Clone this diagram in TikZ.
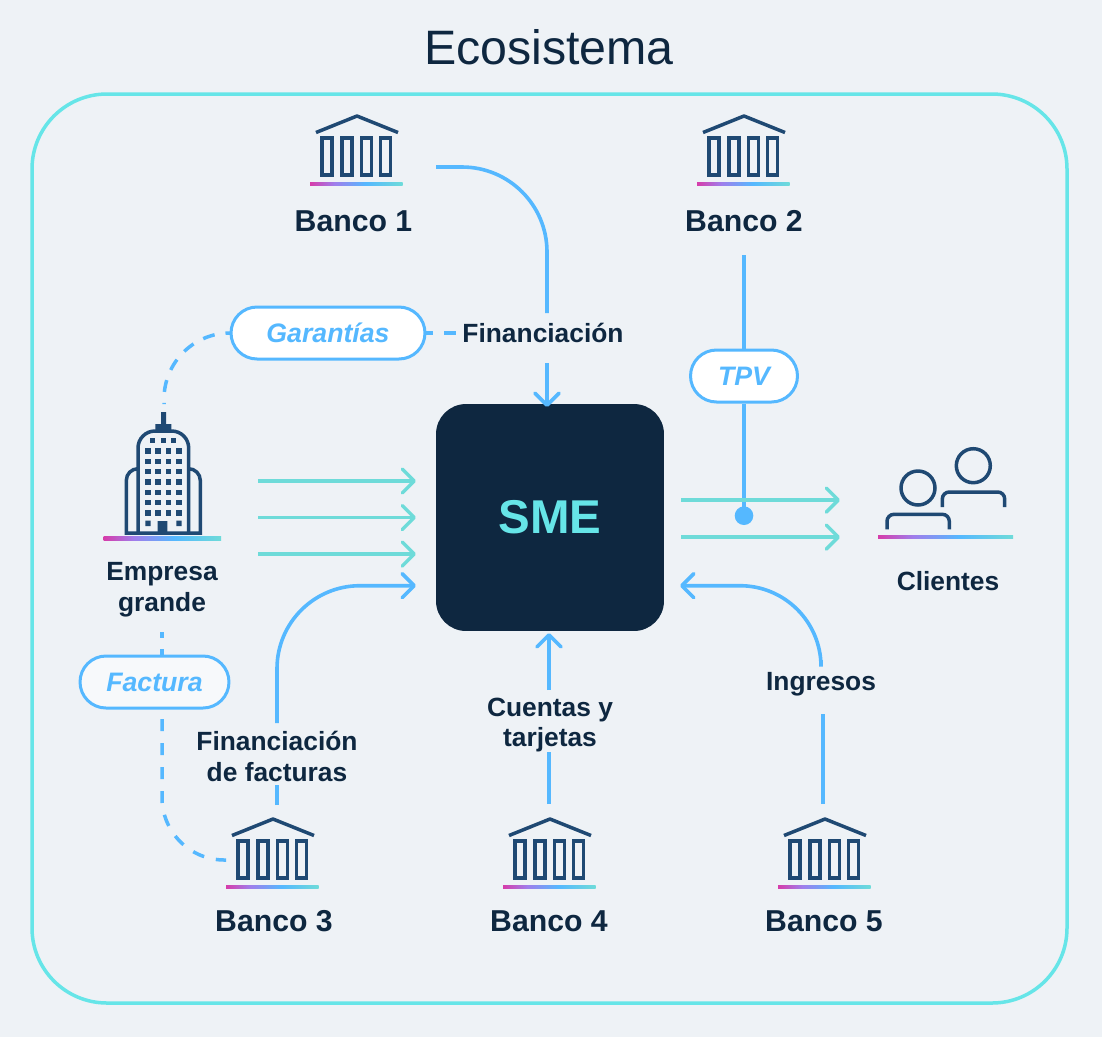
\documentclass[tikz,border=0pt]{standalone}
\usepackage{fontspec}
\setmainfont{Liberation Sans}
\usetikzlibrary{arrows.meta}
\usetikzlibrary{positioning}
\definecolor{pagebg}{RGB}{238,242,246}
\definecolor{navy}{RGB}{14,39,64}
\definecolor{iconblue}{RGB}{31,73,115}
\definecolor{flowblue}{RGB}{85,184,255}
\definecolor{flowteal}{RGB}{110,219,217}
\definecolor{frameteal}{RGB}{102,229,232}
\definecolor{barpink}{RGB}{214,60,170}
\definecolor{barpurple}{RGB}{160,125,235}
\pgfdeclarehorizontalshading{barshade}{100bp}{color(0bp)=(barpink); color(25bp)=(barpink); color(38bp)=(barpurple); color(55bp)=(flowblue); color(75bp)=(flowteal); color(100bp)=(flowteal)}
\tikzset{frame/.style={draw=frameteal,line width=0.07cm,rounded corners=1.5cm}}
\tikzset{core/.style={fill=navy,rounded corners=0.6cm,text=frameteal,font=\bfseries\fontsize{27}{32}\selectfont,minimum width=4.56cm,minimum height=4.54cm}}
\tikzset{bankname/.style={text=navy,font=\bfseries\fontsize{17.2}{20}\selectfont,inner sep=0pt}}
\tikzset{flowlabel/.style={text=navy,align=center,font=\bfseries\fontsize{15}{17.6}\selectfont,inner sep=0pt}}
\tikzset{pill/.style={draw=flowblue,line width=0.06cm,fill=white,text=flowblue,rounded corners=0.52cm,minimum height=1.04cm,font=\bfseries\itshape\fontsize{15.2}{18}\selectfont}}
\tikzset{icon/.style={draw=iconblue,line width=0.07cm}}
\tikzset{blueline/.style={flowblue,line width=0.072cm,>={Straight Barb[round,length=0.24cm,width=0.48cm]}}}
\tikzset{tealline/.style={flowteal,line width=0.07cm,>={Straight Barb[round,length=0.24cm,width=0.48cm]}}}
\tikzset{dashline/.style={flowblue,line width=0.07cm,dash pattern=on 0.24cm off 0.22cm}}
\tikzset{bank/.pic={
    \draw[icon,line join=round] (-41,17.5) -- (0,1) -- (41,17.5);
    \foreach \s in {-35,-15,4.3,23.6}
    {
      \draw[icon] (\s,22.8) rectangle ++(10,37);
    }
    \shade[shading=barshade] (-47,67) rectangle (45.5,70.5);
  }}
\begin{document}
\begin{tikzpicture}[x=0.02cm,y=-0.02cm]
  \useasboundingbox (0,0) rectangle (1102,1036);
  \fill[pagebg] (-5,-5) rectangle (1107,1041);
  \node[text=navy,font=\fontsize{27.5}{32}\selectfont] (title) at (549,47) {Ecosistema};
  \draw[frame] (32,94) rectangle (1067,1003);

  % Center
  \node[core] (sme) at (550,517.5) {SME};

  % Banks
  \pic at (357,115) {bank};
  \pic at (744,115) {bank};
  \pic at (273,818) {bank};
  \pic at (550,818) {bank};
  \pic at (825,818) {bank};
  \node[bankname] (banco1) at (353.5,221) {Banco 1};
  \node[bankname] (banco2) at (744,221) {Banco 2};
  \node[bankname] (banco3) at (274,921) {Banco 3};
  \node[bankname] (banco4) at (549,921) {Banco 4};
  \node[bankname] (banco5) at (824,921) {Banco 5};

  % Building
  \draw[icon] (138,533) -- (138,448) arc (180:270:17) -- (171.7,431) arc (270:360:17) -- (188.7,533);
  \draw[icon] (138,468.7) arc (270:180:11.7) -- (126.3,533) -- (200.3,533) -- (200.3,480.4) arc (0:-90:11.7);
  \fill[iconblue] (161,412) rectangle (166,424) (155.3,424) rectangle (171.3,431) (157.7,521) rectangle (167.3,533);
  \foreach \s in {152.7,163.3,173.7}
  {
    \fill[iconblue] (\s-2.7,438) rectangle ++(5.4,5.4);
  }
  \foreach \r in {451,461.3,471.7,482,492.3,502.7,513}
  {
    \foreach \s in {148,158,168.5,179}
    {
      \fill[iconblue] (\s-2.7,\r-2.7) rectangle ++(5.4,5.4);
    }
  }
  \fill[iconblue] (145.3,520.6) rectangle ++(5.4,5.4) (176.3,520.6) rectangle ++(5.4,5.4);
  \shade[shading=barshade] (103.5,536.7) rectangle (221,540);
  \node[flowlabel] (empresa) at (162,589.5) {Empresa\\grande};

  % People
  \draw[icon] (973.3,465.7) circle (0.34cm) (918,488) circle (0.34cm);
  \draw[icon,rounded corners=0.14cm] (942.3,507) -- (942.3,492) -- (1004.7,492) -- (1004.7,507);
  \draw[icon,rounded corners=0.14cm] (887,529.3) -- (887,514.3) -- (949.3,514.3) -- (949.3,529.3);
  \shade[shading=barshade] (878,535) rectangle (1013,538.3);
  \node[flowlabel] (clientes) at (948,581) {Clientes};

  % Labels
  \node[flowlabel] (fin) at (543,333) {Financiación};
  \node[flowlabel] (finfact) at (277,756) {Financiación\\de facturas};
  \node[flowlabel] (cuentas) at (550,725) {Cuentas y\\tarjetas};
  \node[flowlabel] (ingresos) at (821,684) {Ingresos};
  \node[pill,minimum width=3.88cm] (garantias) at (328,333) {Garantías};
  \node[pill,minimum width=2.14cm] (tpv) at (744,376) {TPV};
  \node[pill,minimum width=2.98cm,fill=white!55!pagebg] (factura) at (154.5,682) {Factura};

  % Free ends
  \coordinate (b1out) at (436,167);
  \coordinate (b1mid) at (547,313);
  \coordinate (b1top) at (547,363);
  \coordinate (b1end) at (547,407);
  \coordinate (b2out) at (744,255);
  \coordinate (b3out) at (277,805);
  \coordinate (b3low) at (277,785);
  \coordinate (b3up) at (277,723);
  \coordinate (b4out) at (549,804);
  \coordinate (b4low) at (549,752);
  \coordinate (b4up) at (549,690);
  \coordinate (b4end) at (549,633);
  \coordinate (b5out) at (823,804);
  \coordinate (b5low) at (823,714);
  \coordinate (b5up) at (821,660);
  \coordinate (b5end) at (680,585.7);
  \coordinate (b3end) at (416,585.7);
  \coordinate (tower) at (164,404);
  \coordinate (towerlow) at (162,632);
  \coordinate (factlow) at (162,719);
  \coordinate (b3left) at (226,860);
  \coordinate (tap) at (744,515.7);

  % Flows
  \draw[blueline,rounded corners=1.7cm] (b1out) -| (b1mid);
  \draw[blueline,->] (b1top) -- (b1end);
  \draw[blueline] (b2out) -- (tpv);
  \draw[blueline] (tpv) -- (tap);
  \fill[flowblue] (tap) circle (0.186cm);
  \draw[blueline] (b3out) -- (b3low);
  \draw[blueline,->,rounded corners=1.66cm] (b3up) |- (b3end);
  \draw[blueline] (b4out) -- (b4low);
  \draw[blueline,->] (b4up) -- (b4end);
  \draw[blueline] (b5out) -- (b5low);
  \draw[blueline,->,rounded corners=1.62cm] (b5up) |- (b5end);
  \foreach \r in {481,517.5,554}
  {
    \draw[tealline,->] (258,\r) -- (416,\r);
  }
  \foreach \r in {500,537}
  {
    \draw[tealline,->] (681,\r) -- (840,\r);
  }

  % Dashed
  \draw[dashline,dash phase=0.14cm,rounded corners=1.32cm] (garantias.west) -| (tower);
  \draw[dashline,dash phase=0.1cm] (garantias.east) -- (fin.west);
  \draw[dashline,dash phase=0.12cm] (towerlow) -- (factura.north -| towerlow);
  \draw[dashline,dash pattern=on 0.24cm off 0.24cm,rounded corners=1.25cm] (factlow) |- (b3left);
\end{tikzpicture}
\end{document}
